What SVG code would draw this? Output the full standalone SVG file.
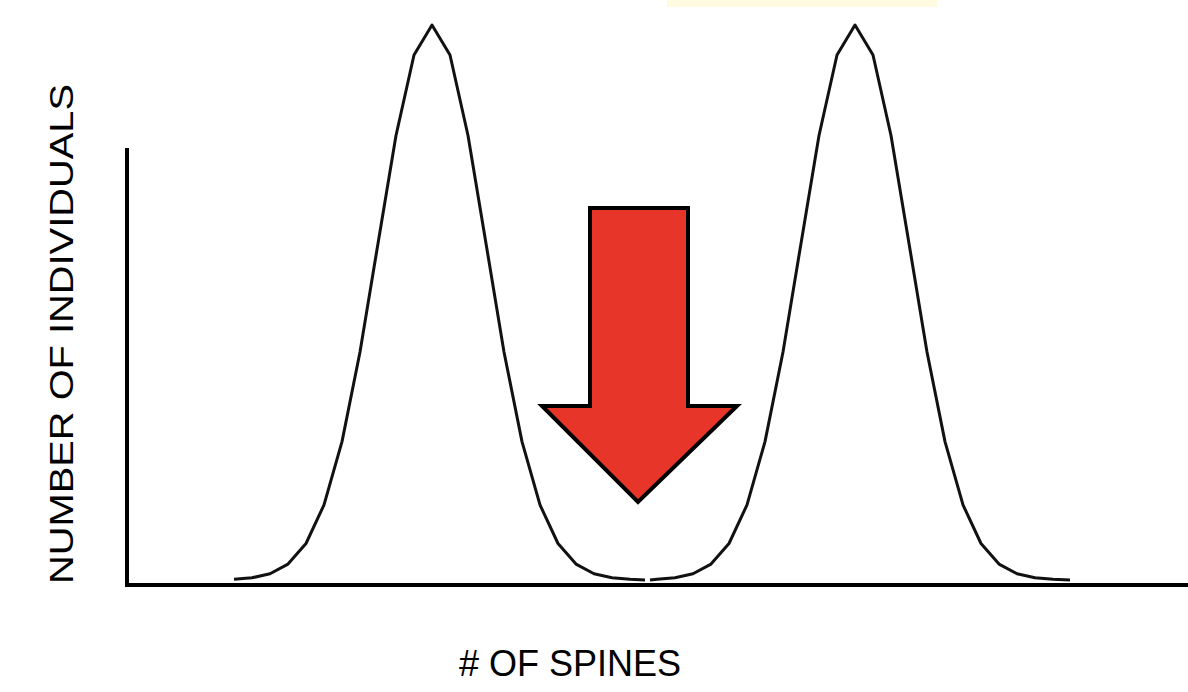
<svg xmlns="http://www.w3.org/2000/svg" width="1188" height="692" viewBox="0 0 1188 692">
<style>
.curve{fill:none;stroke:#111;stroke-width:3;stroke-linejoin:round}
.axis{stroke:#000;stroke-width:4;fill:none}
.lbl{font-family:"Liberation Sans",Arial,sans-serif;fill:#000}
</style>
<rect width="1188" height="692" fill="#fff"/>
<rect x="667" y="0" width="270" height="7" fill="#fffbe0"/>
<g id="curve-left">
<polyline class="curve" points="234,579.3 252,577.8 270,573.8 288,564.1 306,543.5 324,504.9 342,441.6 360,352 378,243.4 396,135.5 414,55 432,25 450,55 468,135.5 486,243.4 504,352 522,441.6 540,504.9 558,543.5 576,564.1 594,573.8 612,577.8 630,579.3 645,580"/>
</g>
<g id="curve-right">
<polyline class="curve" points="650,580 657,579.3 675,577.8 693,573.8 711,564.1 729,543.5 747,504.9 765,441.6 783,352 801,243.4 819,135.5 837,55 855,25 873,55 891,135.5 909,243.4 927,352 945,441.6 963,504.9 981,543.5 999,564.1 1017,573.8 1035,577.8 1053,579.3 1070,580"/>
</g>
<g id="axes">
<polyline class="axis" points="127,148 127,585 1188,585"/>
</g>
<g id="arrow">
<polygon points="590,208 688,208 688,406 737,406 638,502 542,406 590,406" fill="#e8352a" stroke="#000" stroke-width="4" stroke-linejoin="miter"/>
</g>
<g id="labels">
<text class="lbl" x="570" y="676" font-size="36" text-anchor="middle">#  OF SPINES</text>
<text class="lbl" transform="translate(73,334) rotate(-90)" font-size="34" text-anchor="middle" textLength="500" lengthAdjust="spacingAndGlyphs">NUMBER OF INDIVIDUALS</text>
</g>
</svg>
